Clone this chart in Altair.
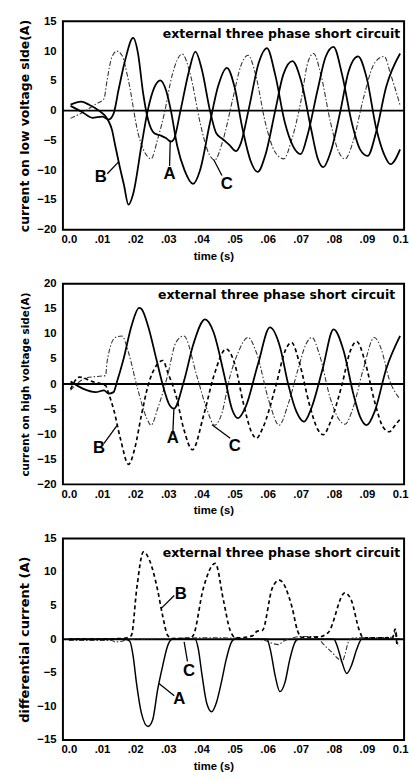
import json
import altair as alt
import pandas as pd

# ---------------- data (time in ms, current in A) ----------------
X_TICKS = [0, 0.01, 0.02, 0.03, 0.04, 0.05, 0.06, 0.07, 0.08, 0.09, 0.1]
X_TICK_LABELS = ["0.0", ".01", ".02", ".03", ".04", ".05", ".06", ".07", ".08", ".09", "0.1"]
TITLE_TEXT = "external three phase short circuit"

# Panel 1: current on low voltage side
LOW_A = [(0.5, 0.8), (4.2, -0.3), (7.1, -1.2), (10.1, -1.0), (12.0, -1.5), (13.5, -0.5),
         (15.0, 3.5), (17.0, 8.5), (19.4, 12.2), (20.9, 9.5), (22.4, 3.0), (23.9, -1.5),
         (25.8, -3.8), (27.8, -4.2), (29.3, -4.6), (30.8, -5.2), (31.7, -4.8), (33.7, 0.0),
         (36.2, 6.5), (38.2, 9.9), (40.1, 7.0), (42.6, 0.0), (44.5, -3.8), (46.5, -4.8),
         (48.5, -5.8), (50.5, -6.8), (51.9, -5.5), (54.4, 0.5), (57.3, 8.0), (59.8, 10.5),
         (62.3, 6.0), (65.2, -2.0), (67.7, -6.0), (70.0, -7.3), (72.1, -4.0), (75.1, 3.5),
         (77.5, 9.0), (79.9, 10.7), (82.5, 6.0), (85.4, -2.0), (87.9, -6.5), (90.2, -7.6),
         (92.8, -3.5), (95.8, 4.0), (100.0, 9.6)]
LOW_B = [(0.5, 1.0), (3.7, 1.5), (6.1, 1.0), (9.1, 0.0), (11.1, -1.0), (12.0, -1.8),
         (13.0, -3.2), (14.0, -5.9), (15.3, -9.3), (16.6, -12.4), (18.0, -15.8), (19.4, -14.0),
         (21.9, -5.9), (23.8, 0.0), (25.8, 3.9), (27.6, 5.1), (29.4, 3.3), (30.8, 0.0),
         (32.7, -5.9), (34.9, -10.0), (37.5, -12.3), (39.6, -10.0), (42.6, -2.0), (45.0, 4.0),
         (47.7, 7.2), (50.0, 4.0), (52.4, -3.0), (54.9, -8.5), (57.0, -10.3), (59.3, -7.5),
         (62.3, 0.0), (64.7, 6.0), (67.5, 8.3), (70.1, 5.0), (73.1, -3.0), (75.1, -8.0),
         (76.8, -9.5), (79.0, -7.0), (82.0, 0.0), (84.4, 6.5), (87.3, 9.1), (89.9, 5.5),
         (92.8, -3.0), (95.3, -7.5), (97.1, -9.0), (100.0, -6.5)]
LOW_C = [(0.5, -1.3), (5.1, 0.0), (8.1, 1.1), (10.6, 2.0), (11.5, 5.0), (13.0, 9.0),
         (14.5, 10.0), (16.0, 9.3), (18.0, 5.0), (20.9, -3.8), (23.9, -7.8), (24.8, -8.1),
         (26.8, -4.8), (28.8, -0.5), (31.2, 6.0), (34.2, 9.5), (36.7, 6.0), (39.6, -2.0),
         (42.1, -7.0), (44.0, -8.3), (46.5, -5.0), (49.5, 2.0), (51.9, 7.5), (54.1, 9.3),
         (56.4, 6.0), (59.3, -2.0), (62.3, -7.0), (64.9, -8.1), (67.2, -5.0), (70.2, 2.0),
         (72.1, 8.0), (73.9, 9.6), (76.1, 6.0), (79.0, -2.0), (81.5, -7.0), (83.4, -8.1),
         (85.9, -5.0), (88.9, 2.0), (92.3, 8.0), (95.2, 9.1), (97.2, 6.0), (100.0, 0.9)]

# Panel 2: current on high voltage side
HIGH_A = [(0.5, 0.5), (4.2, -0.9), (8.1, -1.6), (10.6, -1.25), (12.0, -1.9), (13.5, -1.6),
          (14.5, 0.4), (16.5, 5.0), (18.9, 11.6), (21.2, 15.2), (21.9, 15.0), (23.9, 11.6),
          (26.4, 5.0), (28.4, -0.3), (30.4, -4.2), (31.7, -4.9), (34.7, 0.5), (37.6, 8.0),
          (41.1, 12.9), (43.6, 10.5), (47.0, 1.5), (49.2, -4.9), (51.1, -6.8), (53.4, -4.5),
          (57.1, 4.0), (60.7, 11.3), (63.7, 7.5), (66.2, 0.0), (68.7, -5.5), (71.0, -7.5),
          (73.1, -5.0), (76.6, 3.0), (79.9, 10.9), (83.0, 6.5), (85.9, -2.0), (87.9, -6.5),
          (89.9, -8.2), (92.3, -5.5), (95.8, 3.0), (100.0, 9.6)]
HIGH_B = [(0.5, -1.0), (3.2, 1.4), (7.1, 0.5), (11.1, -0.3), (12.0, -1.9), (13.5, -5.0),
          (15.6, -11.0), (18.0, -16.0), (19.9, -12.8), (21.9, -6.2), (23.9, -0.3), (26.4, 3.7),
          (28.4, 4.7), (29.8, 2.4), (32.3, -2.2), (34.7, -9.0), (37.3, -13.1), (40.7, -6.2),
          (43.8, 1.7), (47.5, 7.0), (50.2, 3.7), (52.6, -3.6), (55.1, -9.5), (56.6, -10.8),
          (58.5, -8.8), (62.5, -0.3), (65.2, 6.5), (67.2, 8.3), (69.7, 4.0), (72.6, -4.0),
          (75.1, -9.0), (76.8, -10.1), (79.0, -7.5), (82.5, 0.0), (84.9, 6.5), (86.9, 8.5),
          (89.4, 4.5), (92.3, -3.5), (94.8, -8.5), (96.7, -9.5), (98.7, -8.0), (100.0, -7.0)]
HIGH_C = [(0.5, -1.2), (5.1, 1.2), (8.1, 1.5), (11.1, 1.7), (11.5, 4.3), (14.0, 9.3),
          (16.0, 9.6), (18.0, 6.3), (20.5, -0.3), (23.5, -6.8), (24.8, -8.2), (26.8, -4.9),
          (29.8, 1.7), (32.3, 8.3), (34.7, 9.6), (38.6, 1.7), (41.6, -4.9), (44.0, -8.2),
          (46.0, -6.2), (48.7, 1.7), (51.1, 6.3), (54.1, 9.3), (56.6, 6.3), (60.5, -3.6),
          (63.5, -8.2), (66.2, -4.0), (69.2, 3.0), (71.6, 8.0), (73.4, 9.3), (75.6, 6.0),
          (79.0, -3.0), (81.5, -7.0), (83.4, -8.0), (85.9, -4.5), (88.9, 3.0), (92.2, 9.3),
          (94.3, 7.0), (96.7, 1.0), (100.0, -3.0)]

# Panel 3: differential current
DIFF_A = [(0.0, 0.0), (17.0, 0.0), (18.4, -0.3), (19.4, -2.5), (20.4, -6.5), (21.9, -11.0),
          (23.9, -13.0), (25.3, -12.0), (26.8, -7.5), (28.3, -4.0), (29.8, -1.0), (31.2, 0.0),
          (38.1, 0.0), (39.1, -1.5), (40.1, -5.0), (41.6, -9.5), (43.1, -10.8), (44.5, -9.5),
          (46.0, -6.5), (47.5, -3.0), (49.0, -0.5), (50.0, 0.0), (59.8, 0.0), (60.8, -1.5),
          (62.3, -5.5), (63.7, -7.8), (65.2, -6.5), (66.7, -3.0), (68.2, -0.5), (69.2, 0.0),
          (80.0, 0.0), (81.0, -1.0), (82.5, -3.5), (83.9, -5.1), (85.4, -3.8), (86.9, -1.5),
          (88.4, 0.0), (100.0, 0.0)]
DIFF_B = [(0.0, 0.0), (16.0, 0.1), (18.0, 0.3), (18.9, 0.6), (20.5, 7.6), (22.5, 13.0),
          (24.3, 11.8), (26.8, 7.3), (28.3, 3.5), (29.8, 0.6), (31.2, 0.1), (36.7, 0.2),
          (37.6, 0.6), (40.6, 7.6), (44.2, 11.3), (46.7, 5.7), (48.7, 1.3), (50.5, 0.2),
          (55.4, 0.5), (56.9, 1.2), (58.4, 1.3), (61.4, 7.6), (63.5, 8.8), (67.4, 4.7),
          (69.0, 1.3), (70.2, 0.3), (75.1, 0.3), (78.3, 1.0), (83.3, 6.9), (85.2, 5.9),
          (87.7, 1.3), (88.9, 0.2), (97.7, 0.2), (98.5, 1.5), (99.1, -0.8), (99.7, -1.0)]
DIFF_C = [(0.0, -0.2), (13.0, -0.2), (14.0, -0.4), (16.0, -0.3), (18.0, 0.0), (30.8, 0.1),
          (38.6, 0.2), (44.5, 0.2), (55.4, 0.1), (59.3, -0.2), (61.3, -0.6), (63.3, -0.8),
          (64.7, -0.3), (66.2, 0.0), (70.2, 0.4), (75.1, 0.4), (76.1, -0.3), (79.3, -1.9),
          (81.3, -2.9), (82.5, -3.3), (83.4, -2.2), (84.4, -0.4), (85.9, 0.2), (97.7, 0.3),
          (98.7, 1.2), (99.3, -0.8)]

# phase letters: (letter, t_ms, value) and pointer lines (t1, v1, t2, v2)
LOW_LABELS = [("B", 9.6, -11.2), ("A", 30.4, -10.7), ("C", 47.7, -12.3)]
LOW_POINTERS = [(11.6, -10.6, 15.0, -8.6), (30.4, -9.3, 30.6, -5.0), (46.2, -10.9, 43.7, -8.2)]
HIGH_LABELS = [("B", 9.1, -12.7), ("A", 31.4, -10.8), ("C", 50.1, -12.4)]
HIGH_POINTERS = [(10.6, -11.8, 14.5, -8.3), (31.4, -9.5, 31.7, -5.0), (48.7, -10.8, 43.2, -8.1)]
DIFF_LABELS = [("B", 33.8, 6.7), ("A", 33.3, -8.9), ("C", 36.3, -4.8)]
DIFF_POINTERS = [(31.8, 6.5, 27.9, 4.6), (31.8, -8.4, 27.2, -6.6), (35.8, -3.3, 34.8, -0.4)]

# ---------------- styling ----------------
TICK_FONT = "Liberation Sans"
TITLE_FONT = "DejaVu Sans"
X_DOMAIN = [-0.0018, 0.1012]
WIDTH = 347
label_expr = json.dumps(X_TICK_LABELS) + "[round(datum.value * 100)]"


def to_df(pts):
    df = pd.DataFrame(pts, columns=["t_ms", "v"])
    df["t"] = df["t_ms"] / 1000.0
    return df


def enc_x(field="t"):
    return alt.X(
        f"{field}:Q",
        scale=alt.Scale(domain=X_DOMAIN, nice=False, zero=False),
        title="time (s)",
        axis=alt.Axis(
            values=X_TICKS, labelExpr=label_expr, grid=False, ticks=False, domain=False,
            labelFont=TICK_FONT, labelFontWeight="bold", labelFontSize=11.5, labelColor="black",
            labelPadding=4, labelFlush=False, labelOverlap=False,
            titleFont=TICK_FONT, titleFontWeight="bold", titleFontSize=11.5, titleColor="black",
            titleX=153, titleY=27, titleBaseline="middle", titleAlign="center",
        ),
    )


def enc_y(ytitle, ydomain, yticks, tsize, field="v"):
    return alt.Y(
        f"{field}:Q",
        scale=alt.Scale(domain=ydomain, nice=False, zero=False),
        title=ytitle,
        axis=alt.Axis(
            values=yticks, grid=False, ticks=False, domain=False,
            labelFont=TICK_FONT, labelFontWeight="bold", labelFontSize=11.5, labelColor="black",
            labelPadding=7, labelFlush=False, labelOverlap=False,
            titleFont=TITLE_FONT, titleFontWeight="bold", titleFontSize=tsize, titleColor="black",
            titlePadding=6,
        ),
    )


def panel(series, ytitle, ydomain, yticks, tsize, height, title_pos, labels, pointers):
    ex = enc_x()
    ey = enc_y(ytitle, ydomain, yticks, tsize)
    layers = []
    for pts, style in series:
        kw = dict(interpolate="monotone", clip=True, stroke=style["color"], strokeWidth=style["width"])
        if "dash" in style:
            kw["strokeDash"] = style["dash"]
        layers.append(alt.Chart(to_df(pts)).mark_line(**kw).encode(x=ex, y=ey, order="t_ms:Q"))
    zero = alt.Chart(pd.DataFrame({"t": [0.0], "v": [0.0]})).mark_rule(
        stroke="black", strokeWidth=2).encode(y=ey)
    layers.insert(0, zero)
    pdf = pd.DataFrame(pointers, columns=["t1", "v1", "t2", "v2"])
    pdf[["t1", "t2"]] = pdf[["t1", "t2"]] / 1000.0
    ptr = alt.Chart(pdf).mark_rule(stroke="black", strokeWidth=1.3).encode(
        x=enc_x("t1"), x2="t2:Q", y=enc_y(ytitle, ydomain, yticks, tsize, "v1"), y2="v2:Q")
    ldf = pd.DataFrame(labels, columns=["name", "t_ms", "v"])
    ldf["t"] = ldf["t_ms"] / 1000.0
    lab = alt.Chart(ldf).mark_text(font=TICK_FONT, fontWeight="bold", fontSize=17,
                                   color="black", align="center", baseline="middle").encode(
        x=ex, y=ey, text="name:N")
    ttl = alt.Chart(pd.DataFrame({"s": [TITLE_TEXT]})).mark_text(
        font=TITLE_FONT, fontWeight="bold", fontSize=12.7, color="black",
        align="right", baseline="middle").encode(
        x=alt.value(title_pos[0]), y=alt.value(title_pos[1]), text="s:N")
    return alt.layer(*layers, ptr, lab, ttl).properties(width=WIDTH, height=height)


SOLID = {"color": "black", "width": 1.8}
DASHED = {"color": "black", "width": 1.7, "dash": [4, 3]}
DASHDOT = {"color": "#333333", "width": 1.1, "dash": [5, 2, 1.5, 2]}

p1 = panel([(LOW_C, DASHDOT), (LOW_B, SOLID), (LOW_A, SOLID)],
           "current on low voltage side(A)", [-20, 15], [-20, -15, -10, -5, 0, 5, 10, 15],
           12.6, 212, (343, 12.5), LOW_LABELS, LOW_POINTERS)
p2 = panel([(HIGH_C, DASHDOT), (HIGH_B, DASHED), (HIGH_A, SOLID)],
           "current on high voltage side(A)", [-20, 20], [-20, -15, -10, -5, 0, 5, 10, 15, 20],
           10.6, 204, (338, 11.5), HIGH_LABELS, HIGH_POINTERS)
p3 = panel([(DIFF_C, DASHDOT), (DIFF_B, DASHED), (DIFF_A, {"color": "black", "width": 1.5})],
           "differential current (A)", [-15, 15], [-15, -10, -5, 0, 5, 10, 15],
           13.2, 205, (343, 15), DIFF_LABELS, DIFF_POINTERS)

chart = alt.vconcat(p1, p2, p3, spacing=55, bounds="flush").properties(
    padding={"left": 16, "top": 8, "right": 0, "bottom": 0},
    background="white",
).configure_view(stroke="black", strokeWidth=2)

chart.save("out.html", embed_options={"renderer": "svg", "actions": False})
